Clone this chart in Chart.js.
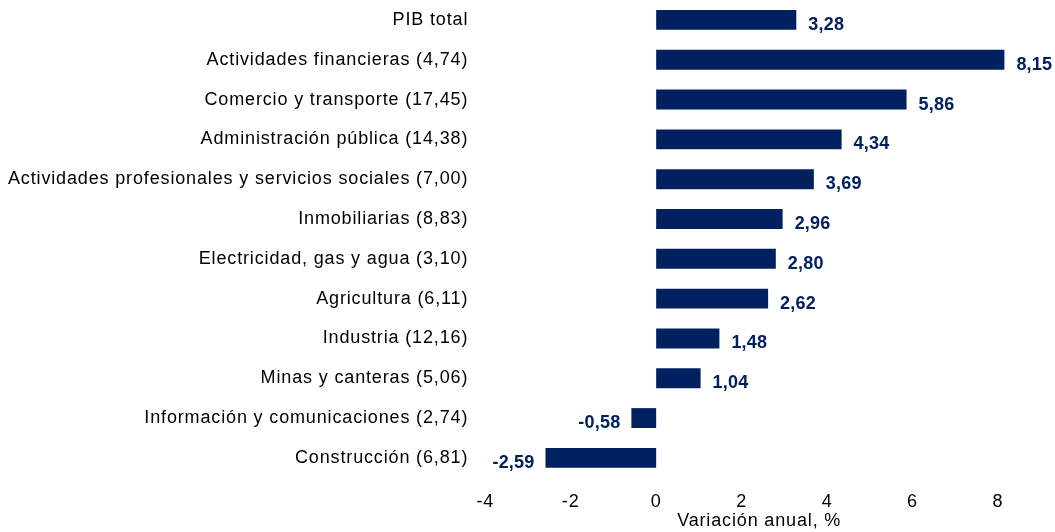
<!DOCTYPE html>
<html>
<head>
<meta charset="utf-8">
<script src="https://cdn.jsdelivr.net/npm/chart.js@4/dist/chart.umd.min.js"></script>
<style>
  html, body { margin: 0; padding: 0; background: #fff; }
  #wrap { width: 1055px; height: 532px; position: relative; }
</style>
</head>
<body>
<div id="wrap"><canvas id="pibChart"></canvas></div>
<script>
const categories = [
    "PIB total",
    "Actividades financieras (4,74)",
    "Comercio y transporte (17,45)",
    "Administración pública (14,38)",
    "Actividades profesionales y servicios sociales (7,00)",
    "Inmobiliarias (8,83)",
    "Electricidad, gas y agua (3,10)",
    "Agricultura (6,11)",
    "Industria (12,16)",
    "Minas y canteras (5,06)",
    "Información y comunicaciones (2,74)",
    "Construcción (6,81)"
];

const variacion = [3.28, 8.15, 5.86, 4.34, 3.69, 2.96, 2.80, 2.62, 1.48, 1.04, -0.58, -2.59];

const xTicks = [-4, -2, 0, 2, 4, 6, 8];

const navy = "#002060";
const fontFamily = "'Liberation Sans', Arial, sans-serif";

// the original text is a bit loosely spaced
const spacing = {
    id: "spacing",
    beforeUpdate(chart) {
        chart.ctx.letterSpacing = "0.85px";
    }
};

// value labels next to each bar, comma as decimal separator
const valueLabels = {
    id: "valueLabels",
    afterDatasetsDraw(chart) {
        const ctx = chart.ctx;
        const meta = chart.getDatasetMeta(0);
        ctx.save();
        ctx.letterSpacing = "0.2px";
        ctx.font = "bold 18px " + fontFamily;
        ctx.fillStyle = navy;
        ctx.textBaseline = "middle";
        meta.data.forEach((bar, i) => {
            const v = variacion[i];
            const txt = v.toFixed(2).replace(".", ",");
            if (v >= 0) {
                ctx.textAlign = "left";
                ctx.fillText(txt, bar.x + 12, bar.y + 5);
            } else {
                ctx.textAlign = "right";
                ctx.fillText(txt, bar.x - 11, bar.y + 5);
            }
        });
        ctx.restore();
    }
};

const pibCtx = document.getElementById("pibChart");

new Chart(pibCtx, {
    type: "bar",
    data: {
        labels: categories,
        datasets: [{
            data: variacion,
            backgroundColor: navy,
            borderWidth: 0,
            barPercentage: 0.5,
            categoryPercentage: 1,
            clip: false
        }]
    },
    options: {
        indexAxis: "y",
        responsive: true,
        maintainAspectRatio: false,
        animation: false,
        layout: {
            padding: { top: 0, right: 57, bottom: 0, left: -9 }
        },
        plugins: {
            legend: { display: false },
            tooltip: { enabled: false }
        },
        scales: {
            x: {
                min: xTicks[0],
                max: xTicks[xTicks.length - 1],
                afterBuildTicks: (axis) => {
                    axis.ticks = xTicks.map(v => ({ value: v }));
                },
                grid: { display: false, drawTicks: false },
                border: { display: false },
                ticks: {
                    color: "#000",
                    padding: 13,
                    font: { family: fontFamily, size: 18 }
                },
                title: {
                    display: true,
                    text: "\u00a0\u00a0\u00a0\u00a0\u00a0\u00a0Variación anual, %",
                    color: "#000",
                    padding: { top: -15, bottom: 0 },
                    font: { family: fontFamily, size: 18 }
                }
            },
            y: {
                afterFit: (axis) => {
                    axis.paddingTop = 0;
                },
                grid: { display: false, drawTicks: false },
                border: { display: false },
                ticks: {
                    color: "#000",
                    padding: 17,
                    autoSkip: false,
                    font: { family: fontFamily, size: 18 }
                }
            }
        }
    },
    plugins: [spacing, valueLabels]
});
</script>
</body>
</html>
